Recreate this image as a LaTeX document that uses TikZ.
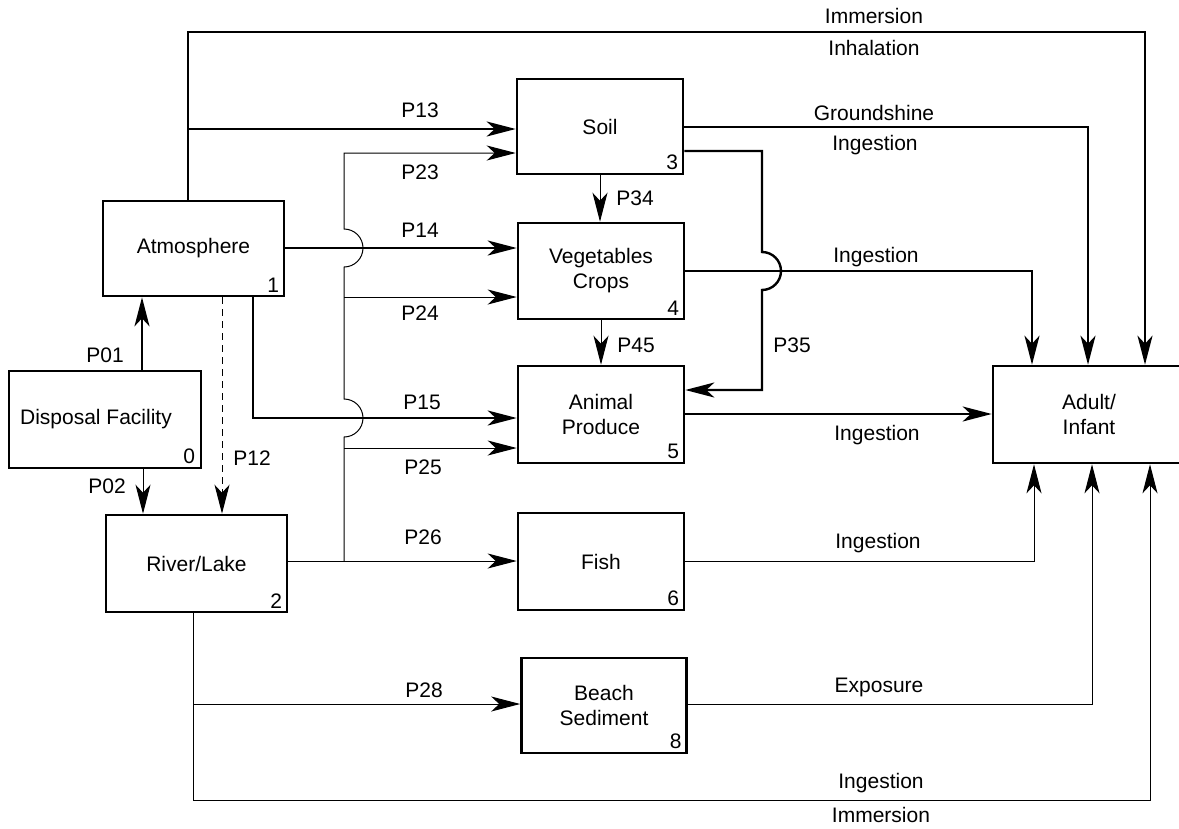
\documentclass[tikz,border=0pt]{standalone}
\usepackage{fontspec}
\setmainfont{Liberation Sans}
\usetikzlibrary{arrows.meta}
\begin{document}
\begin{tikzpicture}[x=1pt,y=-1pt,
  font=\fontsize{21}{25}\selectfont,
  box/.style={draw,line width=2.6pt,rectangle,inner sep=0pt,align=center,minimum width=166pt,minimum height=96pt},
  num/.style={anchor=south east,inner sep=0pt},
  thk/.style={line width=2.4pt},
  thn/.style={line width=1pt},
  arr/.style={-{Stealth[length=29pt,width=15pt,inset=8pt]}},
  lbl/.style={inner sep=0pt},
  line join=miter]
\useasboundingbox (0,0) rectangle (1179,828);
\fill[white] (0,0) rectangle (1179,828);

% boxes
\node[box,minimum width=192pt,minimum height=97pt] (df) at (105,419.5) {Disposal Facility\hspace*{18pt}};
\node[box,minimum width=181pt,minimum height=95pt] (atm) at (193.5,248.5) {Atmosphere};
\node[box,minimum width=181pt,minimum height=97pt] (rl) at (196.5,563.5) {River/Lake};
\node[box,minimum height=95pt] (soil) at (600,126.5) {Soil};
\node[box] (veg) at (601,271) {Vegetables\\Crops};
\node[box,minimum height=97pt] (anim) at (601,414.5) {Animal\\Produce};
\node[box,minimum height=97pt] (fish) at (601,561.5) {Fish};
\node[box,minimum width=165pt,minimum height=95pt] (beach) at (604,705.5) {Beach\\Sediment};
\node[box,minimum width=192pt,minimum height=97pt] (adult) at (1089,414.5) {Adult/\\Infant};

% box numbers
\node[num] (n0) at ([shift={(-7,-5)}]df.south east) {0};
\node[num] (n1) at ([shift={(-6,-5)}]atm.south east) {1};
\node[num] (n2) at ([shift={(-6,-5)}]rl.south east) {2};
\node[num] (n3) at ([shift={(-6,-5)}]soil.south east) {3};
\node[num] (n4) at ([shift={(-6,-5)}]veg.south east) {4};
\node[num] (n5) at ([shift={(-6,-5)}]anim.south east) {5};
\node[num] (n6) at ([shift={(-6,-5)}]fish.south east) {6};
\node[num] (n8) at ([shift={(-6,-5)}]beach.south east) {8};

% disposal facility
\draw[thk,arr] (df.north -| 142,0) -- (atm.south -| 142,0);
\draw[thn,arr] (df.south -| 143,0) -- (rl.north -| 143,0);
\draw[thn,dash pattern=on 7pt off 5pt,arr] (atm.south -| 222,0) -- (rl.north -| 222,0);

% atmosphere
\draw[thk,arr] (atm.north -| 188,0) -- (188,32) -| (adult.north -| 1145,0);
\coordinate (j13) at (188,129);
\draw[thk,arr] (j13) -- (soil.west |- 0,129);
\draw[thk,arr] (atm.east |- 0,248) -- (veg.west |- 0,248);
\draw[thk,arr] (atm.south -| 253,0) |- (anim.west |- 0,418);

% soil
\draw[thk,arr] (soil.east |- 0,127) -| (adult.north -| 1088,0);
\draw[thk,arr] (soil.east |- 0,151) -- (762,151) -- (762,252) arc[start angle=90,end angle=-90,radius=19pt] -- (762,390) -- (anim.east |- 0,390);
\draw[thn,arr] (soil.south -| 600,0) -- (veg.north -| 600,0);

% vegetables
\draw[thk,arr] (veg.east |- 0,271) -| (adult.north -| 1032,0);
\draw[thn,arr] (veg.south -| 601,0) -- (anim.north -| 601,0);

% animal
\draw[thk,arr] (anim.east |- 0,414) -- (adult.west |- 0,414);

% river / lake
\coordinate (bus) at (344,561);
\draw[thn,arr] (rl.east |- 0,561) -- (fish.west |- 0,561);
\draw[thn,arr] (bus) -- (344,437) arc[start angle=-90,end angle=90,radius=19pt] -- (344,267) arc[start angle=-90,end angle=90,radius=19pt] -- (344,153) -- (soil.west |- 0,153);
\coordinate (j24) at (344,297);
\coordinate (j25) at (344,448);
\draw[thn,arr] (j24) -- (veg.west |- 0,297);
\draw[thn,arr] (j25) -- (anim.west |- 0,448);
\draw[thn,arr] (rl.south -| 193,0) |- (1150,800) -- (adult.south -| 1150,0);
\coordinate (j28) at (193,704);
\draw[thn,arr] (j28) -- (beach.west |- 0,704);

% fish, beach
\draw[thn,arr] (fish.east |- 0,561) -| (adult.south -| 1034,0);
\draw[thn,arr] (beach.east |- 0,704) -| (adult.south -| 1092,0);

% labels
\node[lbl] (lP01) at (105,355) {P01};
\node[lbl] (lP02) at (107,486) {P02};
\node[lbl] (lP12) at (252,458) {P12};
\node[lbl] (lP13) at (420,110) {P13};
\node[lbl] (lP23) at (420,172) {P23};
\node[lbl] (lP14) at (420,230) {P14};
\node[lbl] (lP24) at (420,313) {P24};
\node[lbl] (lP15) at (422,402) {P15};
\node[lbl] (lP25) at (423,467) {P25};
\node[lbl] (lP26) at (423,537) {P26};
\node[lbl] (lP28) at (424,690) {P28};
\node[lbl] (lP34) at (635,198) {P34};
\node[lbl] (lP45) at (636,345) {P45};
\node[lbl] (lP35) at (792,345) {P35};
\node[lbl] (lImm1) at (874,16) {Immersion};
\node[lbl] (lInh) at (874,48) {Inhalation};
\node[lbl] (lGro) at (874,113) {Groundshine};
\node[lbl] (lIng3) at (875,145) {Ingestion};
\node[lbl] (lIng4) at (876,257) {Ingestion};
\node[lbl] (lIng5) at (877,435) {Ingestion};
\node[lbl] (lIng6) at (878,543) {Ingestion};
\node[lbl] (lExp) at (879,687) {Exposure};
\node[lbl] (lIng2) at (881,783) {Ingestion};
\node[lbl] (lImm2) at (881,815) {Immersion};
\end{tikzpicture}
\end{document}
